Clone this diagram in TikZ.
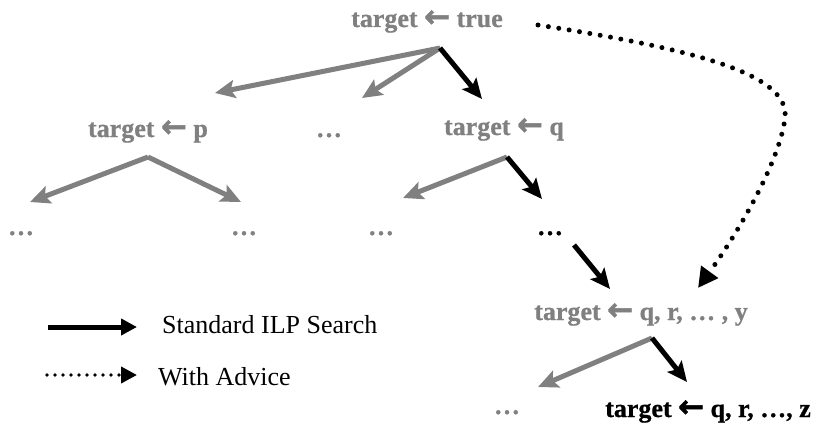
\documentclass[tikz,border=0pt]{standalone}
\usepackage{fontspec}
\setmainfont{Liberation Serif}
\newfontfamily\arrowfont{DejaVu Sans}[FakeBold=1.5]
\newfontfamily\lblfont{Liberation Serif Bold}[FakeBold=0.8]
\usetikzlibrary{arrows.meta}
\definecolor{tgray}{RGB}{128,128,128}
\newcommand{\lar}{{\arrowfont\bfseries\fontsize{31}{30}\selectfont ←}}
\tikzset{
  lbl/.style={font=\lblfont\fontsize{26}{30}\selectfont, text=tgray, inner sep=0pt, anchor=base},
  blk/.style={lbl, text=black},
  leg/.style={font=\fontsize{26}{30}\selectfont, text=black, inner sep=0pt, anchor=base west},
  garr/.style={draw=tgray, line width=5pt, -{Stealth[length=20pt,width=18pt,inset=4pt]}},
  barr/.style={draw=black, line width=5pt, -{Stealth[length=20pt,width=18pt,inset=4pt]}},
  darr/.style={draw=black, line width=5pt, line cap=round, dash pattern=on 0pt off 10.5pt, -{Triangle[length=20pt,width=20pt]}},
}
\begin{document}
\begin{tikzpicture}[x=1pt,y=-1pt]
\useasboundingbox (0,0) rectangle (816,423);
% nodes
\node[lbl] (root) at (427,27) {target \lar\ true};
\node[lbl] (p) at (148,137) {target \lar\ p};
\node[lbl] (m1) at (329,137) {…};
\node[lbl] (q) at (504,135) {target \lar\ q};
\node[lbl] (d1) at (21,235) {…};
\node[lbl] (d2) at (244,235) {…};
\node[lbl] (d3) at (381,235) {…};
\node[blk] (d4) at (550,235) {…};
\node[lbl] (y) at (641,320) {target \lar\ q, r, … , y};
\node[lbl] (d5) at (507,414) {…};
\node[blk] (z) at (708,417) {target \lar\ q, r, …, z};
\node[leg] (l1) at (162,333) {Standard ILP Search};
\node[leg] (l2) at (158,385) {With Advice};
% coordinates
\coordinate (rA) at (440,48);
\coordinate (rL) at (215,93);
\coordinate (rM) at (362,98);
\coordinate (rR) at (482,99);
\coordinate (pA) at (148,157);
\coordinate (pL) at (30,202);
\coordinate (pR) at (241,202);
\coordinate (qA) at (507,157);
\coordinate (qL) at (403,198);
\coordinate (qR) at (542,199);
\coordinate (dS) at (574,245);
\coordinate (dE) at (610,289);
\coordinate (yA) at (652,338);
\coordinate (yL) at (538,387);
\coordinate (yR) at (687,382);
\coordinate (cS) at (538,25);
\coordinate (cM) at (785,118);
\coordinate (cE) at (698,288);
\coordinate (l1a) at (48,327);
\coordinate (l1b) at (137,327);
\coordinate (l2a) at (47,375);
\coordinate (l2b) at (137,375);
% arrows
\draw[garr] (rA) -- (rL);
\draw[garr] (rA) -- (rM);
\draw[barr] (rA) -- (rR);
\draw[garr] (pA) -- (pL);
\draw[garr] (pA) -- (pR);
\draw[garr] (qA) -- (qL);
\draw[barr] (qA) -- (qR);
\draw[barr] (dS) -- (dE);
\draw[garr] (yA) -- (yL);
\draw[barr] (yA) -- (yR);
\draw[darr] (cS) .. controls (700,50) and (790,75) .. (cM) .. controls (780,160) and (740,230) .. (cE);
\draw[black, line width=5pt, -{Triangle[length=16pt,width=16pt]}] (l1a) -- (l1b);
\draw[black, line width=3.8pt, line cap=round, dash pattern=on 0pt off 8pt, -{Triangle[length=16pt,width=16pt]}] (l2a) -- (l2b);
\end{tikzpicture}
\end{document}
